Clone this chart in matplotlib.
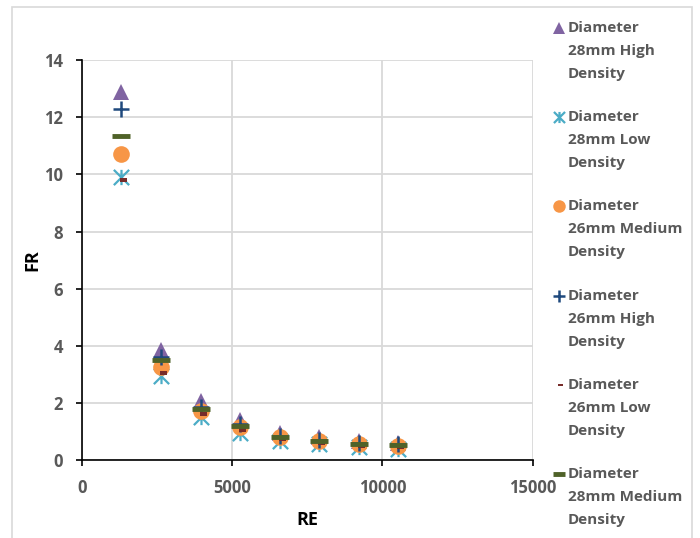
import numpy as np
import matplotlib.pyplot as plt
from matplotlib.path import Path
from matplotlib.patches import Rectangle
from matplotlib.lines import Line2D

plt.rcParams['font.family'] = ['Open Sans', 'DejaVu Sans']

# Reynolds numbers (RE) and friction values (FR)
re_vals = [1316, 2632, 3948, 5264, 6580, 7896, 9212, 10528]

fr_28_high = [12.9, 3.85, 2.05, 1.40, 0.95, 0.80, 0.65, 0.60]
fr_28_low = [9.9, 2.95, 1.50, 0.95, 0.65, 0.55, 0.45, 0.40]
fr_26_med = [10.7, 3.25, 1.72, 1.15, 0.80, 0.66, 0.55, 0.50]
fr_26_high = [12.3, 3.60, 1.85, 1.25, 0.85, 0.70, 0.60, 0.55]
fr_26_low = [9.8, 3.05, 1.62, 1.05, 0.72, 0.60, 0.50, 0.45]
fr_28_med = [11.35, 3.50, 1.80, 1.20, 0.82, 0.68, 0.57, 0.52]

labels = ['Diameter\n28mm High\nDensity',
          'Diameter\n28mm Low\nDensity',
          'Diameter\n26mm Medium\nDensity',
          'Diameter\n26mm High\nDensity',
          'Diameter\n26mm Low\nDensity',
          'Diameter\n28mm Medium\nDensity']

# excel style "star" marker: an X with a vertical stroke
star = Path([(-1, -1), (1, 1), (-1, 1), (1, -1), (0, -1), (0, 1)],
            [Path.MOVETO, Path.LINETO, Path.MOVETO, Path.LINETO, Path.MOVETO, Path.LINETO])
# short dash drawn a bit right of centre like excel does
sdash = Path([(-0.2, -0.3), (1, -0.3), (1, 0.3), (-0.2, 0.3), (-0.2, -0.3)],
             [Path.MOVETO, Path.LINETO, Path.LINETO, Path.LINETO, Path.CLOSEPOLY])

# marker style per series, plot size and legend size
styles = [
    dict(marker='^', color='#8064A2', mew=0, ms=(12, 9)),
    dict(marker=star, color='#4BACC6', mew=1.6, ms=(11, 8)),
    dict(marker='o', color='#F79646', mew=0, ms=(12, 9)),
    dict(marker='+', color='#1F497D', mew=1.8, ms=(12, 9)),
    dict(marker=sdash, color='#772C2A', mew=0, ms=(8, 6)),
    dict(marker='_', color='#4F6228', mew=3.5, ms=(13, 9)),
]
series = [fr_28_high, fr_28_low, fr_26_med, fr_26_high, fr_26_low, fr_28_med]

fig = plt.figure(figsize=(7, 5.38), dpi=100)
ax = fig.add_axes([0.117, 0.145, 0.644, 0.743])

fig.patches.append(Rectangle((12 / 700, -0.1), 680 / 700, 1.1 - 7 / 538, transform=fig.transFigure,
                             fill=False, edgecolor='#D9D9D9', lw=1.2))

for ys, st, lab in zip(series, styles, labels):
    ax.plot(re_vals, ys, ls='none', marker=st['marker'], ms=st['ms'][0], mew=st['mew'],
            color=st['color'], label=lab)

ax.set_xlim(0, 15000)
ax.set_ylim(0, 14)
ax.set_xticks([0, 5000, 10000, 15000])
ax.set_yticks(range(0, 15, 2))
ax.grid(True, color='#D9D9D9', lw=1.3)
ax.set_axisbelow(True)
for s in ['top', 'right']:
    ax.spines[s].set_visible(False)
for s in ['left', 'bottom']:
    ax.spines[s].set_linewidth(1.2)
ax.tick_params(direction='out', length=4.5, width=1.2, labelsize=12, labelcolor='#595959', pad=9)
for t in ax.get_xticklabels() + ax.get_yticklabels():
    t.set_fontweight('bold')
ax.set_xlabel('RE', fontsize=13, fontweight='bold', labelpad=10)
ax.set_ylabel('FR', fontsize=13, fontweight='bold', labelpad=2)

# legend, excel style: marker level with the first line of a wrapped label
for i, (st, lab) in enumerate(zip(styles, labels)):
    y0 = 28 + 89.2 * i
    fig.add_artist(Line2D([559 / 700], [1 - y0 / 538], transform=fig.transFigure, ls='none',
                          marker=st['marker'], ms=st['ms'][1], mew=st['mew'], color=st['color']))
    for j, line in enumerate(lab.split('\n')):
        fig.text(568 / 700, 1 - (y0 + 23 * j) / 538, line, va='center', ha='left',
                 fontsize=11, fontweight='bold', color='#595959')

fig.savefig('out.png', dpi=100)
